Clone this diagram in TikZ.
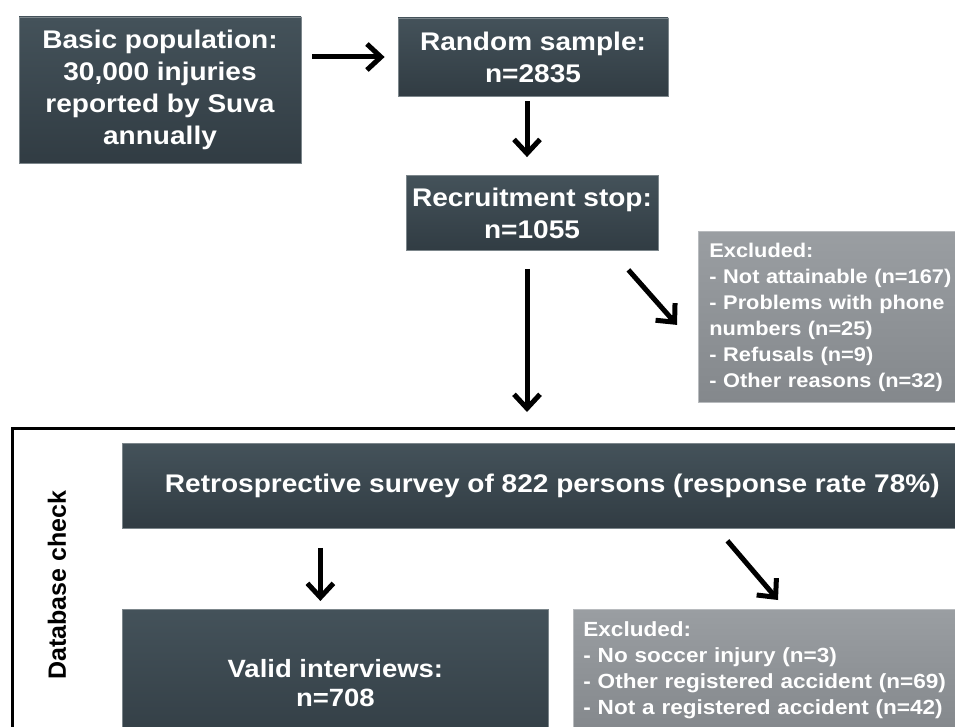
\documentclass[tikz,border=0pt]{standalone}
\usepackage{fontspec}
\setmainfont[FakeStretch=1.1]{Liberation Sans}
\newfontfamily\plainsans{Liberation Sans}
\usetikzlibrary{arrows.meta,calc}
\definecolor{slatetop}{RGB}{68,82,90}
\definecolor{slatebot}{RGB}{49,60,67}
\definecolor{greytop}{RGB}{154,158,162}
\definecolor{greybot}{RGB}{132,136,140}

\begin{document}
\begin{tikzpicture}[x=1pt,y=-1pt,>=stealth,
    darkbox/.style={draw=slatetop!70!white,line width=0.8pt,top color=slatetop,bottom color=slatebot,
      text=white,font=\bfseries\fontsize{25.5}{32}\selectfont,align=center,inner sep=0pt},
    paler/.style={draw=greytop!70!white,line width=0.8pt,top color=greytop,bottom color=greybot,
      text=white,inner ysep=0pt},
    arr/.style={line width=5pt,-{Straight Barb[length=14pt,width=26pt,line width=5pt]}}]
    \useasboundingbox (0,0) rectangle (955,727);

    \node[darkbox,minimum width=282,minimum height=146] (basic) at (160,90)
    {Basic population:\\30,000 injuries\\reported by Suva\\annually};
    \node[darkbox,minimum width=270,minimum height=78] (random) at (533,57)
    {Random sample:\\n=2835};
    \node[darkbox,minimum width=252,minimum height=75] (recruit) at (532,213)
    {Recruitment stop:\\n=1055};
    \node[paler,anchor=north west,minimum width=280,minimum height=171,inner xsep=11pt,
      text width=258,align=left,font=\bfseries\fontsize{19.8}{26}\selectfont] (excl) at (698,231)
    {Excluded:\\- Not attainable (n=167)\\- Problems with phone\\numbers (n=25)\\
      - Refusals (n=9)\\- Other reasons (n=32)};

    % database check frame
    \node[draw=black,line width=3pt,anchor=north west,minimum width=980,minimum height=330]
    (frame) at (11,427) {};
    \node[rotate=90,font=\plainsans\bfseries\fontsize{25}{30}\selectfont] (dbcheck) at (57,585)
    {Database check};

    \node[darkbox,anchor=north west,minimum width=860,minimum height=85] (survey) at (122,443)
    {Retrosprective survey of 822 persons (response rate 78\%)};
    \node[darkbox,anchor=north west,minimum width=426,minimum height=148,
      font=\bfseries\fontsize{25}{29}\selectfont] (valid) at (122,609)
    {Valid interviews:\\n=708};
    \node[paler,anchor=north west,minimum width=412,minimum height=122,inner xsep=10pt,
      text width=392,align=left,font=\bfseries\fontsize{20.5}{26}\selectfont] (exclb) at (573,609)
    {Excluded:\\- No soccer injury (n=3)\\- Other registered accident (n=69)\\
      - Not a registered accident (n=42)};

    \draw[arr,shorten <=11pt,shorten >=13pt] (basic.east |- random.west) -- (random.west);
    \draw[arr,shorten <=5pt,shorten >=18pt] ($(recruit.north |- random.south)+(-5,0)$)
    -- ($(recruit.north)+(-5,0)$);
    \draw[arr,shorten <=18pt,shorten >=15pt] ($(recruit.south)+(-5,0)$)
    -- ($(recruit.south |- frame.north)+(-5,0)$);
    \draw[arr] ($(recruit.south east)+(-30,19)$) -- ($(excl.west)+(-21,8)$);
    \draw[arr,shorten <=19pt,shorten >=8pt] ($(survey.south -| valid.north)+(-15,0)$)
    -- ($(valid.north)+(-15,0)$);
    \draw[arr] ($(survey.south)+(175,12)$) -- ($(exclb.north west)+(205,-9)$);
\end{tikzpicture}
\end{document}
